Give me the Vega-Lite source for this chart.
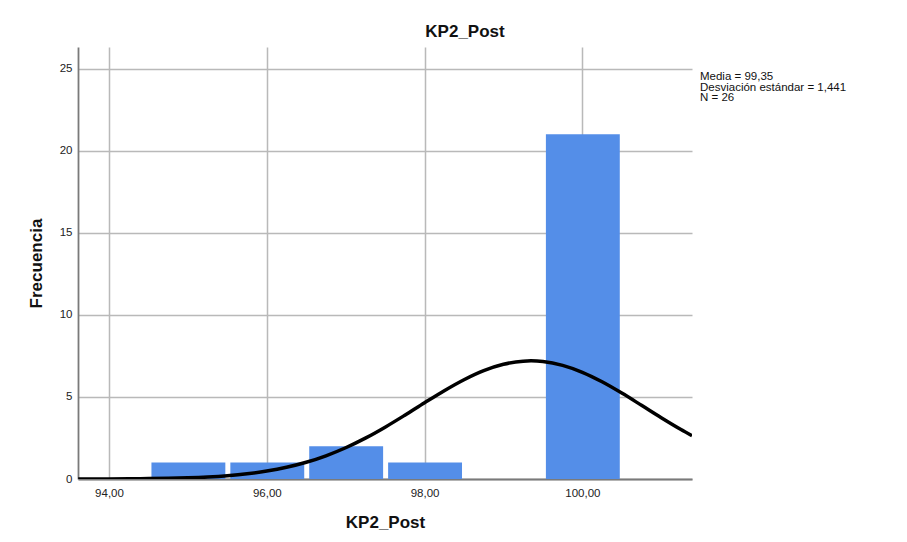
{
  "$schema": "https://vega.github.io/schema/vega-lite/v6.json",
  "width": 614,
  "height": 432,
  "autosize": "none",
  "padding": {"left": 78, "top": 47, "right": 215, "bottom": 63},
  "background": "white",
  "title": {
    "text": "KP2_Post",
    "font": "Liberation Sans",
    "fontSize": 17,
    "fontWeight": "bold",
    "color": "#111111",
    "anchor": "middle",
    "dx": 80,
    "offset": 6
  },
  "config": {
    "view": {"stroke": null},
    "font": "Liberation Sans",
    "axis": {
      "labelFont": "Liberation Sans",
      "labelFontSize": 11.5,
      "labelColor": "#222222",
      "titleFont": "Liberation Sans",
      "titleFontSize": 17,
      "titleFontWeight": "bold",
      "titleColor": "#111111",
      "gridColor": "#b9b9b9",
      "gridWidth": 1.5,
      "domainColor": "#7a7a7a",
      "domainWidth": 1.8,
      "ticks": false
    }
  },
  "datasets": {
    "bins": [
      {"bin_start": 94.5, "bin_end": 95.5, "count": 1},
      {"bin_start": 95.5, "bin_end": 96.5, "count": 1},
      {"bin_start": 96.5, "bin_end": 97.5, "count": 2},
      {"bin_start": 97.5, "bin_end": 98.5, "count": 1},
      {"bin_start": 99.5, "bin_end": 100.5, "count": 21}
    ],
    "normal": [
      {"x": 93.61, "y": 0.0026},
      {"x": 94.0, "y": 0.0073},
      {"x": 94.25, "y": 0.0137},
      {"x": 94.5, "y": 0.0249},
      {"x": 94.75, "y": 0.0441},
      {"x": 95.0, "y": 0.0755},
      {"x": 95.25, "y": 0.1256},
      {"x": 95.5, "y": 0.2028},
      {"x": 95.75, "y": 0.3176},
      {"x": 96.0, "y": 0.4827},
      {"x": 96.25, "y": 0.7116},
      {"x": 96.5, "y": 1.018},
      {"x": 96.75, "y": 1.414},
      {"x": 97.0, "y": 1.904},
      {"x": 97.25, "y": 2.489},
      {"x": 97.5, "y": 3.158},
      {"x": 97.75, "y": 3.886},
      {"x": 98.0, "y": 4.641},
      {"x": 98.25, "y": 5.379},
      {"x": 98.5, "y": 6.048},
      {"x": 98.75, "y": 6.601},
      {"x": 99.0, "y": 6.988},
      {"x": 99.25, "y": 7.181},
      {"x": 99.35, "y": 7.198},
      {"x": 99.5, "y": 7.159},
      {"x": 99.75, "y": 6.926},
      {"x": 100.0, "y": 6.502},
      {"x": 100.25, "y": 5.923},
      {"x": 100.5, "y": 5.235},
      {"x": 100.75, "y": 4.49},
      {"x": 101.0, "y": 3.737},
      {"x": 101.25, "y": 3.018},
      {"x": 101.39, "y": 2.642}
    ],
    "stats": [
      {"label": "Media = 99,35\nDesviación estándar = 1,441\nN = 26"}
    ]
  },
  "layer": [
    {
      "data": {"name": "bins"},
      "mark": {"type": "bar", "color": "#548ee8", "binSpacing": 5},
      "encoding": {
        "x": {
          "field": "bin_start",
          "type": "quantitative",
          "bin": {"binned": true, "step": 1},
          "scale": {"domain": [93.607, 101.39], "nice": false, "zero": false},
          "axis": {
            "title": "KP2_Post",
            "values": [94, 96, 98, 100],
            "labelExpr": "replace(format(datum.value, '.2f'), '.', ',')",
            "labelPadding": 8,
            "titlePadding": 16,
            "grid": true
          }
        },
        "x2": {"field": "bin_end"},
        "y": {
          "field": "count",
          "type": "quantitative",
          "scale": {"domain": [0, 26.32], "nice": false},
          "axis": {
            "title": "Frecuencia",
            "values": [0, 5, 10, 15, 20, 25],
            "labelPadding": 6,
            "titlePadding": 14,
            "grid": true
          }
        }
      }
    },
    {
      "data": {"name": "normal"},
      "mark": {"type": "line", "color": "#000000", "strokeWidth": 3.5, "interpolate": "monotone", "clip": true},
      "encoding": {
        "x": {"field": "x", "type": "quantitative"},
        "y": {"field": "y", "type": "quantitative"}
      }
    },
    {
      "data": {"name": "stats"},
      "mark": {
        "type": "text",
        "align": "left",
        "baseline": "alphabetic",
        "lineBreak": "\n",
        "lineHeight": 10.5,
        "fontSize": 11.5,
        "font": "Liberation Sans",
        "color": "#111111",
        "dx": 8
      },
      "encoding": {
        "x": {"datum": 101.39, "type": "quantitative"},
        "y": {"datum": 24.29, "type": "quantitative"},
        "text": {"field": "label"}
      }
    }
  ]
}
